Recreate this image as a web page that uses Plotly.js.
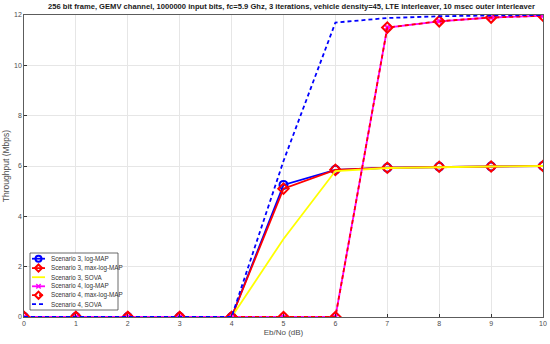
<!DOCTYPE html>
<html>
<head>
<meta charset="utf-8">
<script src="https://cdn.plot.ly/plotly-3.0.1.min.js"></script>
<style>
  html, body { margin: 0; padding: 0; background: #fff; }
  #plot { width: 550px; height: 344px; }
</style>
</head>
<body>
<div id="plot"></div>
<script>
// Eb/No axis (dB)
const ebno = [0, 1, 2, 3, 4, 5, 6, 7, 8, 9, 10];

// throughput (Mbps)
const s3LogMap    = [0, 0, 0, 0, 0, 5.25, 5.85, 5.93, 5.97, 5.98, 6.0];
const s3MaxLogMap = [0, 0, 0, 0, 0, 5.1, 5.85, 5.93, 5.97, 5.98, 6.0];
const s3Sova      = [0, 0, 0, 0, 0, 3.1, 5.8, 5.92, 5.96, 5.98, 6.0];
const s4LogMap    = [0, 0, 0, 0, 0, 0, 0, 11.5, 11.75, 11.9, 11.97];
const s4MaxLogMap = [0, 0, 0, 0, 0, 0, 0, 11.5, 11.75, 11.9, 11.97];
const s4Sova      = [0, 0, 0, 0, 0, 6.2, 11.7, 11.88, 11.95, 11.98, 12.0];

const names = [
    'Scenario 3, log-MAP',
    'Scenario 3, max-log-MAP',
    'Scenario 3, SOVA',
    'Scenario 4, log-MAP',
    'Scenario 4, max-log-MAP',
    'Scenario 4, SOVA'
];

const FONT = 'Liberation Sans, Arial, sans-serif';
const W = 550, H = 344;
const M = { l: 24, r: 7, t: 15, b: 27 };
const plotW = W - M.l - M.r, plotH = H - M.t - M.b;
const LW = 1.8;
const DASH = '4px,3px';

// pixel -> paper helpers for the hand-drawn (compact, MATLAB-like) legend
const px = x => (x - M.l) / plotW;
const py = y => (H - M.b - y) / plotH;

const styles = [
    { color: '#0000ff', dash: 'solid', marker: 'circle' },
    { color: '#ff0000', dash: 'solid', marker: 'diamond' },
    { color: '#ffff00', dash: 'solid', marker: null },
    { color: '#ff00ff', dash: 'solid', marker: 'x' },
    { color: '#ff0000', dash: DASH, marker: 'diamond' },
    { color: '#0000ff', dash: DASH, marker: null }
];
const series = [s3LogMap, s3MaxLogMap, s3Sova, s4LogMap, s4MaxLogMap, s4Sova];

const markerMap = { circle: 'circle-open', diamond: 'diamond-open', x: 'x-thin-open' };

const traces = series.map((ys, i) => {
    const st = styles[i];
    const t = {
        x: ebno, y: ys, name: names[i],
        mode: st.marker ? 'lines+markers' : 'lines',
        line: { color: st.color, width: LW, dash: st.dash }
    };
    if (st.marker) {
        t.marker = {
            symbol: markerMap[st.marker],
            size: st.marker === 'x' ? 6 : 8,
            color: st.color,
            line: { width: 2, color: st.color }
        };
    }
    return t;
});

// legend: box, samples and labels
const shapes = [];
const annotations = [];
const box = { x0: 30, x1: 118, y0: 253, y1: 310 };
shapes.push({
    type: 'rect', xref: 'paper', yref: 'paper', layer: 'above',
    x0: px(box.x0), x1: px(box.x1), y0: py(box.y1), y1: py(box.y0),
    line: { color: '#444', width: 0.8 }, fillcolor: '#ffffff'
});
const rowY = [258.7, 268.1, 277.2, 286.3, 295.2, 304.2];
const sx0 = 32, sx1 = 45, smid = 38.5, tx = 48.5;
names.forEach((nm, i) => {
    const st = styles[i];
    const y = rowY[i];
    shapes.push({
        type: 'line', xref: 'paper', yref: 'paper', layer: 'above',
        x0: px(sx0), x1: px(sx1), y0: py(y), y1: py(y),
        line: { color: st.color, width: LW, dash: st.dash }
    });
    if (st.marker === 'circle') {
        shapes.push({
            type: 'circle', xref: 'paper', yref: 'paper', layer: 'above',
            x0: px(smid - 3), x1: px(smid + 3), y0: py(y + 3), y1: py(y - 3),
            line: { color: st.color, width: 2 }, fillcolor: 'rgba(0,0,0,0)'
        });
    } else if (st.marker === 'diamond') {
        const d = 3.6;
        shapes.push({
            type: 'path', xref: 'paper', yref: 'paper', layer: 'above',
            path: `M ${px(smid)} ${py(y - d)} L ${px(smid + d)} ${py(y)} L ${px(smid)} ${py(y + d)} L ${px(smid - d)} ${py(y)} Z`,
            line: { color: st.color, width: 2 }, fillcolor: 'rgba(0,0,0,0)'
        });
    } else if (st.marker === 'x') {
        const d = 2.2;
        shapes.push({
            type: 'path', xref: 'paper', yref: 'paper', layer: 'above',
            path: `M ${px(smid - d)} ${py(y - d)} L ${px(smid + d)} ${py(y + d)} M ${px(smid - d)} ${py(y + d)} L ${px(smid + d)} ${py(y - d)}`,
            line: { color: st.color, width: 1.5 }
        });
    }
    annotations.push({
        xref: 'paper', yref: 'paper', x: px(tx), y: py(y),
        xanchor: 'left', yanchor: 'middle', showarrow: false,
        text: nm, font: { family: FONT, size: 6.3, color: '#333' }
    });
});

const layout = {
    width: W,
    height: H,
    paper_bgcolor: '#ffffff',
    plot_bgcolor: '#ffffff',
    margin: M,
    font: { family: FONT, size: 7, color: '#4d4d4d' },
    title: {
        text: '<b>256 bit frame, GEMV channel, 1000000 input bits, fc=5.9 Ghz, 3 iterations, vehicle density=45, LTE interleaver, 10 msec outer interleaver</b>',
        font: { family: FONT, size: 7.6, color: '#1a1a1a' },
        x: 0.53, xanchor: 'center', y: 0.99, yanchor: 'top'
    },
    xaxis: {
        range: [0, 10],
        tickvals: ebno,
        ticks: 'inside', ticklen: 3, tickcolor: '#333',
        showline: true, mirror: true, linecolor: '#333', linewidth: 0.8,
        showgrid: true, gridcolor: '#e6e6e6', zeroline: false,
        tickfont: { size: 7, color: '#4d4d4d' },
        automargin: false,
        title: { text: 'Eb/No (dB)', font: { size: 8, color: '#4d4d4d' }, standoff: 3 }
    },
    yaxis: {
        range: [0, 12],
        tickvals: [0, 2, 4, 6, 8, 10, 12],
        ticks: 'inside', ticklen: 3, tickcolor: '#333',
        showline: true, mirror: true, linecolor: '#333', linewidth: 0.8,
        showgrid: true, gridcolor: '#e6e6e6', zeroline: false,
        tickfont: { size: 7, color: '#4d4d4d' },
        automargin: false,
        title: { text: 'Throughput (Mbps)', font: { size: 8.5, color: '#4d4d4d' }, standoff: 2 }
    },
    showlegend: false,
    shapes: shapes,
    annotations: annotations
};

Plotly.newPlot('plot', traces, layout, { displayModeBar: false, staticPlot: true });
</script>
</body>
</html>
